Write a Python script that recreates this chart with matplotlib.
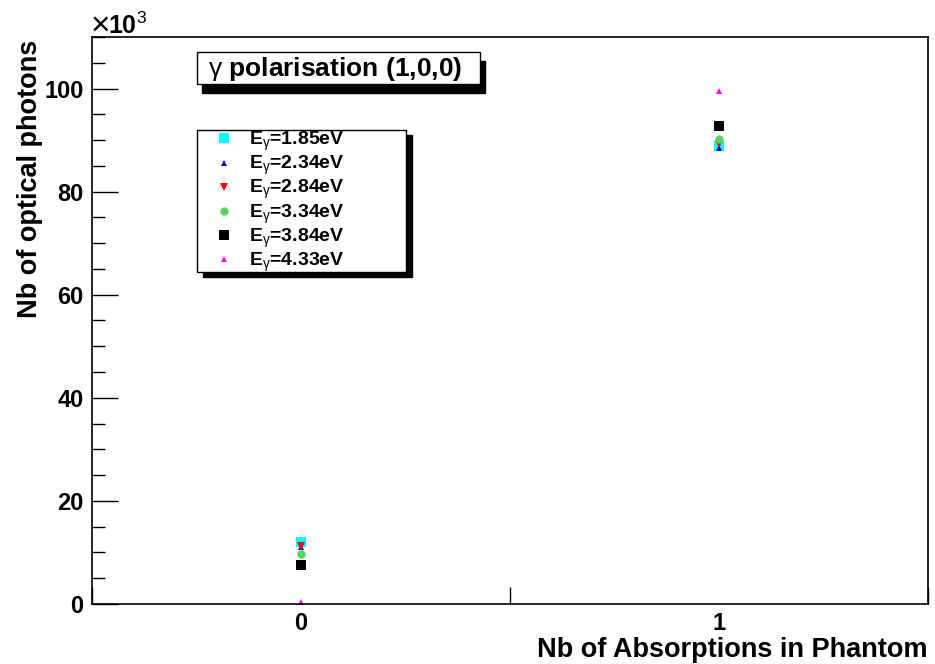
import matplotlib
matplotlib.use('Agg')
import matplotlib.pyplot as plt
from matplotlib.patches import Rectangle

plt.rcParams['font.family'] = ['Liberation Sans', 'DejaVu Sans']
plt.rcParams['mathtext.fontset'] = 'custom'
plt.rcParams['mathtext.rm'] = 'Liberation Sans'
plt.rcParams['mathtext.bf'] = 'Liberation Sans:bold'
plt.rcParams['mathtext.it'] = 'Liberation Sans:italic'

# number of absorptions (bin centres) and photon counts in units of 10^3
absorptions = [0, 1]
energies = ['1.85', '2.34', '2.84', '3.34', '3.84', '4.33']
photons = {
    '1.85': [12.0, 88.8],
    '2.34': [11.0, 88.5],
    '2.84': [11.3, 89.2],
    '3.34': [9.6, 90.3],
    '3.84': [7.6, 92.8],
    '4.33': [0.3, 99.6],
}
colors = ['#00ffff', '#0000ff', '#ff0000', '#59d454', '#000000', '#ff00ff']
markers = ['s', '^', 'v', 'o', 's', '^']
sizes = [6.5, 5, 6, 6, 6.5, 5]

fig = plt.figure(figsize=(9.35, 6.64), dpi=100)
ax = fig.add_axes([0.0984, 0.0904, 0.894, 0.8539])

for e, c, m, s in zip(energies, colors, markers, sizes):
    ax.plot(absorptions, photons[e], linestyle='none', marker=m, color=c,
            markersize=s, markeredgewidth=0,
            label=r'E$_{\mathrm{\gamma}}$=' + e + 'eV')

ax.set_xlim(-0.5, 1.5)
ax.set_ylim(0, 110)

# y axis ticks (ROOT style, inward)
ax.set_yticks(range(0, 101, 20))
ax.set_yticks(range(0, 111, 5), minor=True)
ax.tick_params(axis='y', which='major', direction='in', length=19, width=1,
               labelsize=17, pad=6)
ax.tick_params(axis='y', which='minor', direction='in', length=9.5, width=1)
for lab in ax.get_yticklabels():
    lab.set_fontweight('bold')

# x axis: bin edges as ticks, bin centres as labels
ax.set_xticks([-0.5, 0.5, 1.5])
ax.set_xticklabels(['', '', ''])
ax.set_xticks(absorptions, minor=True)
ax.set_xticklabels([str(a) for a in absorptions], minor=True,
                   fontsize=17, fontweight='bold')
ax.tick_params(axis='x', which='major', direction='in', length=12, width=1)
ax.tick_params(axis='x', which='minor', length=0, pad=6)

for sp in ax.spines.values():
    sp.set_linewidth(1.2)

ax.set_xlabel('Nb of Absorptions in Phantom', fontsize=19.5, fontweight='bold',
              loc='right')
ax.xaxis.set_label_coords(1.0, -0.058)
ax.set_ylabel('Nb of optical photons', fontsize=19.5, fontweight='bold',
              loc='top')
ax.yaxis.set_label_coords(-0.0586, 0.995)

# x10^3 multiplier
fig.text(90 / 935, 1 - 34 / 664, r'$\times$', fontsize=24,
         ha='left', va='baseline')
fig.text(108 / 935, 1 - 34 / 664, r'10$^{\rm 3}$', fontsize=18,
         fontweight='bold', ha='left', va='baseline')

W, H = 935, 664


def shadow_box(x0, y0, x1, y1, dx, dy):
    # box in pixel coords (top-left origin) with a black shadow
    fig.patches.append(Rectangle(((x0 + dx) / W, 1 - (y1 + dy) / H),
                                 (x1 - x0) / W, (y1 - y0) / H,
                                 transform=fig.transFigure, facecolor='black',
                                 edgecolor='black', zorder=5))
    fig.patches.append(Rectangle((x0 / W, 1 - y1 / H), (x1 - x0) / W,
                                 (y1 - y0) / H, transform=fig.transFigure,
                                 facecolor='white', edgecolor='black',
                                 linewidth=1, zorder=6))


# title box
shadow_box(197, 52, 480, 84, 5, 9)
fig.text(208 / W, 1 - 69 / H, r'$\mathrm{\gamma}$ polarisation (1,0,0)',
         fontsize=19, fontweight='bold', ha='left', va='center', zorder=7)

# legend box
shadow_box(197, 130, 406, 272, 6, 5)
leg = ax.legend(loc='upper left', bbox_to_anchor=(212 / W, 1 - 128 / H),
                bbox_transform=fig.transFigure, frameon=False,
                prop={'weight': 'bold', 'size': 14}, labelspacing=0.05,
                handlelength=1.0, handletextpad=0.8, borderaxespad=0,
                borderpad=0.1)
leg.remove()
fig.add_artist(leg)
leg.set_zorder(8)

fig.savefig('out.png', dpi=100)
